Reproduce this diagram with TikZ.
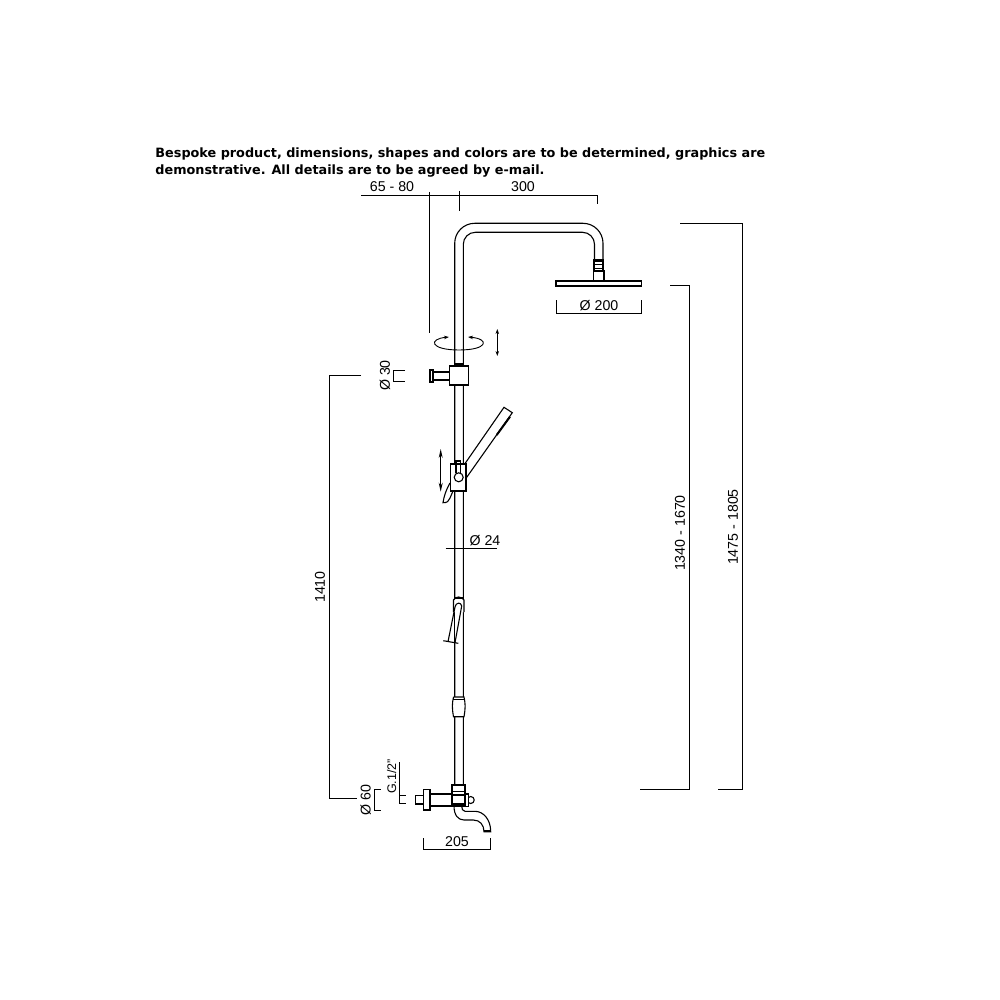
\documentclass[tikz,border=0pt]{standalone}
\usepackage{fontspec}
\setmainfont{Liberation Sans}
\newfontfamily\notefont{DejaVu Sans}
\usetikzlibrary{arrows.meta}
\begin{document}
\begin{tikzpicture}[x=1pt,y=-1pt,line width=0.9pt,>=stealth,
	dimline/.style={line width=1pt,black},
	dimtext/.style={inner sep=0pt,font=\fontsize{14.2}{16}\selectfont,text=black},
	part/.style={line width=1.1pt,black},
	move/.style={line width=0.9pt,{Stealth[length=5pt,width=3.5pt]}-{Stealth[length=5pt,width=3.5pt]}}]
	\useasboundingbox (0,0) rectangle (1000,1000);
	\fill[white] (0,0) rectangle (1000,1000);
	\node[anchor=north west,inner sep=0pt,align=left,font=\notefont\bfseries\fontsize{12.8}{17}\selectfont] (note) at (155,147) {Bespoke product, dimensions, shapes and colors are to be determined, graphics are\\demonstrative. All details are to be agreed by e-mail.};
	% column and arm
	\draw[part,rounded corners=20pt] (454.7,785) -- (454.7,223.3) -- (603,223.3) -- (603,262);
	\draw[part,rounded corners=12pt] (463.3,785) -- (463.3,232.3) -- (594.5,232.3) -- (594.5,262);
	% shower head
	\draw[part,fill=white] (594,260) rectangle (603,271);
	\foreach \y in {261,264,268}\draw[line width=1pt] (593,\y)--(604,\y);
	\draw[part] (593.3,271) rectangle (604,281);
	\draw[part,fill=white] (556,281) rectangle (641.7,286);
	% upper clamp
	\draw[part] (454.7,364) rectangle (463.7,366);
	\draw[part,fill=white] (449.3,366) rectangle (468.7,385);
	\draw[part,fill=white] (433,372) rectangle (449.3,380);
	\draw[part,fill=white] (430,370) rectangle (433,382);
	% hand shower
	\draw[part,fill=white] (464,465) -- (504,407.3) -- (512.3,412.7) -- (466,478.3);
	\draw[line width=2pt] (496.7,435) -- (510,416.7);
	\draw[part,fill=white] (450,483) .. controls (446,490) and (444,496) .. (443,502.7) .. controls (447,503) and (449,501) .. (450,498) -- (453,491);
	\draw[part,fill=white] (450.7,464) rectangle (466,491);
	\draw[part] (456,473) -- (456,461) -- (460.7,461) -- (460.7,473);
	\draw[part,fill=white] (458.7,477.3) circle (4.5);
	% hose holder
	\draw[part,fill=white] (453.5,612) -- (453.5,600) .. controls (456,596) and (461,596) .. (464,600) -- (464,612);
	\draw[part] (454,598) -- (463.5,598);
	\draw[part,fill=white] (455,607) .. controls (456,602) and (461,602) .. (461.7,606) -- (455,642.7);
	\draw[part] (455,607) -- (448,641.7);
	\draw[part] (443.3,640.7) -- (458.3,643.3);
	% lower clamp
	\draw[part,fill=white] (453.5,697) -- (464,697) .. controls (465.5,704) and (465.5,708) .. (464,716.7) -- (453.5,716.7) .. controls (452,708) and (452,704) .. (453.5,697);
	\draw[part] (453,699.5) -- (464.5,699.5);
	% mixer and spout
	\draw[part,fill=white] (454,806) .. controls (454,815) and (458,820) .. (464,820) -- (473.3,820) .. controls (480,820) and (484,825) .. (484,831.7) -- (490.7,831.7) .. controls (490.7,819) and (483,811.3) .. (475,811.3) -- (465,811.3) .. controls (462.5,811) and (461.7,809) .. (461.7,806);
	\draw[line width=2pt] (484,831) -- (490.7,831);
	\draw[part,fill=white] (415.3,795.7) rectangle (423.3,804);
	\draw[part,fill=white] (423.3,789.3) rectangle (430,810);
	\draw[part,fill=white] (430,794) rectangle (452,806);
	\draw[part,fill=white] (470.7,800) circle (3.5);
	\draw[part,fill=white] (452,785) rectangle (465,806);
	\draw[part,fill=white] (465,794) rectangle (468.3,806.7);
	\foreach \y in {791.7,795,804}\draw[part] (452,\y)--(465,\y);
	% movement arrows
	\draw[move] (449,337) .. controls (428,339) and (430,350) .. (459,350) .. controls (488,350) and (490,339) .. (468,337);
	\draw[move] (497.3,329) -- (497.3,356);
	\draw[line width=0.9pt,{Stealth[open,length=9pt,width=4pt]}-{Stealth[open,length=9pt,width=4pt]}] (440.7,449) -- (440.7,491.7);
	% dimensions
	\draw[dimline] (361,195.3) -- (597,195.3) -- (597,204);
	\draw[dimline] (429.4,192) -- (429.4,333);
	\draw[dimline] (459.5,191) -- (459.5,211);
	\node[dimtext] (armgap) at (392,187) {65 - 80};
	\node[dimtext] (armlen) at (523,187) {300};
	\draw[dimline] (556,300) -- (556,313.3) -- (641.7,313.3) -- (641.7,300);
	\node[dimtext] (headdia) at (599,306) {Ø 200};
	\draw[dimline] (361,375) -- (329,375) -- (329,798) -- (357,798);
	\node[dimtext,rotate=90] (height) at (320,587) {1410};
	\draw[dimline] (405,370) -- (393.3,370) -- (393.3,381) -- (405,381);
	\node[dimtext,rotate=90] (knobdia) at (385,375.5) {Ø 30};
	\draw[dimline] (445.7,548.3) -- (496.7,548.3);
	\foreach \x in {454.7,463.3}\draw[dimline] (\x,545.5)--(\x,551);
	\node[dimtext] (piped) at (485,541) {Ø 24};
	\draw[dimline] (670,285) -- (689,285) -- (689,789) -- (640,789);
	\node[dimtext,rotate=90] (headh) at (680,533) {1340 - 1670};
	\draw[dimline] (680,224) -- (742,224) -- (742,789) -- (718,789);
	\node[dimtext,rotate=90] (toth) at (733,527) {1475 - 1805};
	\draw[dimline] (380.7,789) -- (374,789) -- (374,810.7) -- (380.7,810.7);
	\node[dimtext,rotate=90] (flange) at (365.7,800) {Ø 60};
	\draw[dimline] (399.3,762) -- (399.3,803.3) -- (406,803.3);
	\draw[dimline] (399.3,795) -- (406,795);
	\node[dimtext,rotate=90,font=\fontsize{12.5}{14}\selectfont] (thread) at (391.7,776.5) {G.1/2"};
	\draw[dimline] (423.3,838) -- (423.3,849) -- (490.7,849) -- (490.7,838);
	\node[dimtext] (spout) at (457,842) {205};
\end{tikzpicture}
\end{document}
